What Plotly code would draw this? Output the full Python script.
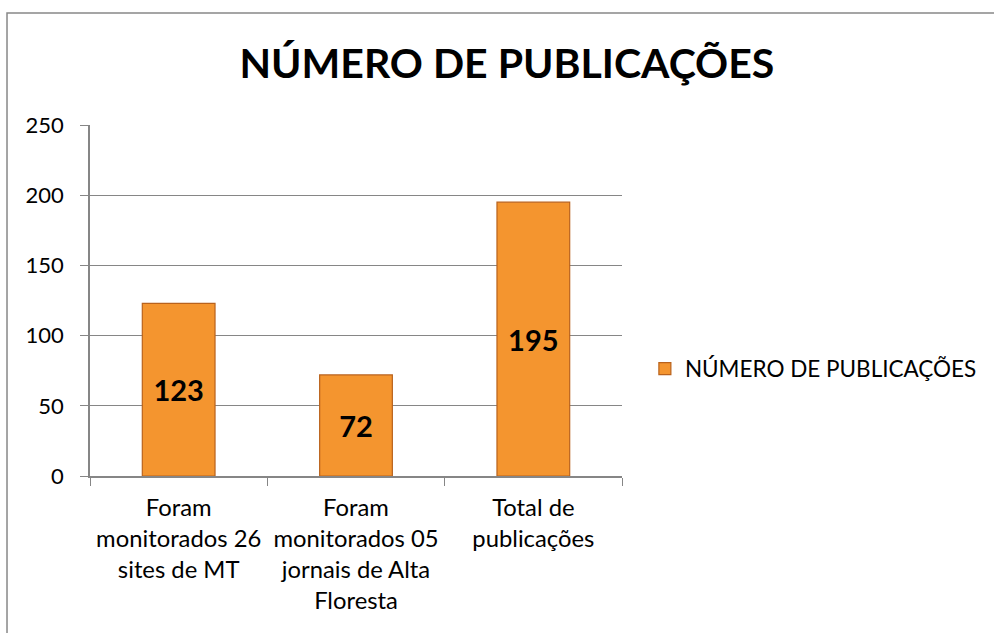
import plotly.graph_objects as go

categories = ["Foram<br>monitorados 26<br>sites de MT",
              "Foram<br>monitorados 05<br>jornais de Alta<br>Floresta",
              "Total de<br>publicações"]
values = [123, 72, 195]
series_name = "NÚMERO DE PUBLICAÇÕES"
title_text = "NÚMERO DE PUBLICAÇÕES"
y_ticks = [0, 50, 100, 150, 200, 250]

FONT = "Lato"

fig = go.Figure()
fig.add_trace(go.Bar(
    x=categories, y=values, name=series_name,
    width=0.41,
    marker=dict(color="#F4952F", line=dict(color="#B9621C", width=1.2)),
    text=[str(v) for v in values],
    textposition="inside", insidetextanchor="middle",
    textfont=dict(family=FONT, size=29, color="black", weight="bold"),
    showlegend=True,
))

fig.update_layout(
    width=994, height=633,
    margin=dict(l=90, r=367, t=125, b=157),
    paper_bgcolor="white", plot_bgcolor="white",
    font=dict(family=FONT, size=22, color="black"),
    title=dict(text="<b>" + title_text + "</b>", x=0.51, xanchor="center",
               y=0.899, yanchor="middle",
               font=dict(family=FONT, size=41, color="black")),
    showlegend=True,
    legend=dict(x=1.043, y=0.305, xanchor="left", yanchor="middle",
                font=dict(family=FONT, size=22.5, color="black"),
                itemwidth=30, bgcolor="rgba(0,0,0,0)"),
    xaxis=dict(showline=True, linecolor="#868686", linewidth=1.5,
               ticks="outside", tickson="boundaries", ticklen=8,
               tickcolor="#868686", showgrid=False, ticklabelstandoff=10,
               tickangle=0, automargin=False,
               tickfont=dict(family=FONT, size=23.8)),
    yaxis=dict(range=[0, 250], tickvals=y_ticks, showline=True,
               linecolor="#868686", linewidth=1.5, ticks="outside",
               ticklen=8, tickcolor="#868686", showgrid=True,
               gridcolor="#868686", gridwidth=1.2, zeroline=False,
               ticklabelstandoff=12, automargin=False,
               tickfont=dict(family=FONT, size=22)),
    shapes=[dict(type="rect", xref="paper", yref="paper",
                 x0=-0.156, x1=1.75, y0=-1.0, y1=1.319,
                 line=dict(color="#888888", width=1.5), fillcolor="rgba(0,0,0,0)",
                 layer="below")],
)

fig.write_html("out.html", config={"displayModeBar": False},
               post_script="document.body.style.margin='0';")
